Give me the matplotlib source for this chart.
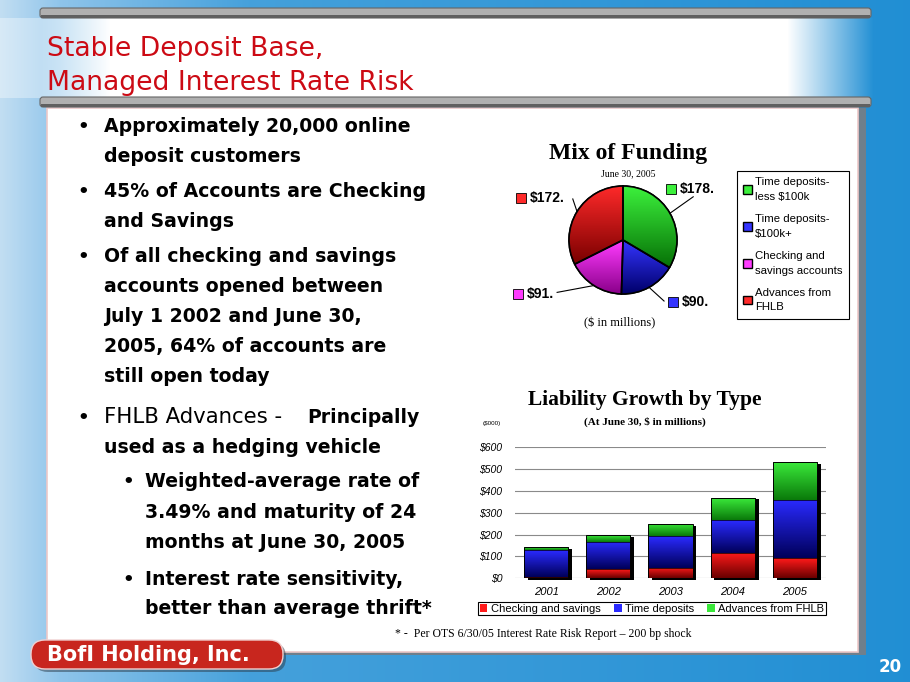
import numpy as np
import matplotlib
matplotlib.use('Agg')
import matplotlib.pyplot as plt
from matplotlib.patches import Rectangle, FancyBboxPatch
from matplotlib.colors import LinearSegmentedColormap

########### Data
FUNDING_LABELS = ['Time deposits-\nless $100k', 'Time deposits-\n$100k+',
                  'Checking and\nsavings accounts', 'Advances from\nFHLB']
FUNDING_VALUES = [178, 90, 91, 172]
FUNDING_TAGS = ['$178.', '$90.', '$91.', '$172.']

YEARS = ['2001', '2002', '2003', '2004', '2005']
CHECKING = [8, 41, 49, 118, 91]
TIME_DEP = [123, 127, 143, 151, 268]
FHLB_ADV = [12, 29, 55, 100, 172]
GROWTH_LABELS = ['Checking and savings', 'Time deposits', 'Advances from FHLB']
Y_TICKS = [0, 100, 200, 300, 400, 500, 600]
Y_TICK_LABELS = ['$0', '$100', '$200', '$300', '$400', '$500', '$600']

########### Styles
PIE_SHADES = [('#3cf03c', '#067006'), ('#3434ff', '#00006a'),
              ('#ff3cff', '#8a008a'), ('#ff2a2a', '#7a0000')]
BAR_SHADES = [('#ff1a1a', '#6a0000'), ('#2a2aff', '#00005a'), ('#3ae83a', '#0a7a0a')]
TITLE_RED = '#cc0a14'
W, H = 910, 682

fig = plt.figure(figsize=(9.1, 6.82), dpi=100)


def shade(ax, patch, c_top, c_bot, extent):
    """fill a patch with a vertical gradient (clipped image)"""
    cmap = LinearSegmentedColormap.from_list('g', [c_bot, c_top])
    grad = np.linspace(0, 1, 64).reshape(-1, 1)
    im = ax.imshow(grad, cmap=cmap, extent=extent, origin='lower', aspect='auto',
                   interpolation='bilinear', zorder=patch.get_zorder() + 0.1)
    im.set_clip_path(patch)


########### Slide background (pixel coordinates)
bg = fig.add_axes([0, 0, 1, 1], zorder=-1)
bg.set_xlim(0, W)
bg.set_ylim(H, 0)
bg.axis('off')

xs = np.arange(W)
stops = [0, 60, 250, 910]
cols = np.array([[0.76, 0.87, 0.95], [0.56, 0.77, 0.92], [0.27, 0.63, 0.86], [0.13, 0.56, 0.83]])
base = np.stack([np.interp(xs, stops, cols[:, k]) for k in range(3)], axis=-1)
img = np.tile(base, (H, 1, 1))
alpha = np.interp(xs, [40, 110, 787, 873], [0.35, 1, 1, 0])[None, :, None]
img[18:98] = img[18:98] * (1 - alpha) + alpha
bg.imshow(img, extent=(0, W, H, 0), aspect='auto', zorder=0)

# gray bars
for y0 in (8, 97):
    bg.add_patch(FancyBboxPatch((40, y0), 831, 10, boxstyle='round,pad=0,rounding_size=3',
                                facecolor='#b0b0b0', edgecolor='#666666', lw=0.8, zorder=2))
    bg.add_patch(Rectangle((41, y0 + 7), 829, 3, facecolor='#606060', lw=0, zorder=2.1))

# content panel
bg.add_patch(Rectangle((50, 108), 816, 547, facecolor='#6f7f8c', lw=0, zorder=1))
bg.add_patch(Rectangle((47, 108), 811, 544, facecolor='white', edgecolor='#ecc8c8', lw=1.2, zorder=1.5))

# title
bg.text(47, 56, 'Stable Deposit Base,', color=TITLE_RED, fontsize=19.2, va='baseline', zorder=3)
bg.text(47, 90, 'Managed Interest Rate Risk', color=TITLE_RED, fontsize=19.2, va='baseline', zorder=3)

# bullet text
lines = [
    (132, 0, True, 'Approximately 20,000 online'),
    (162, 0, False, 'deposit customers'),
    (197, 0, True, '45% of Accounts are Checking'),
    (227, 0, False, 'and Savings'),
    (262, 0, True, 'Of all checking and savings'),
    (292, 0, False, 'accounts opened between'),
    (322, 0, False, 'July 1 2002 and June 30,'),
    (352, 0, False, '2005, 64% of accounts are'),
    (382, 0, False, 'still open today'),
    (453, 0, False, 'used as a hedging vehicle'),
    (487, 1, True, 'Weighted-average rate of'),
    (518, 1, False, '3.49% and maturity of 24'),
    (548, 1, False, 'months at June 30, 2005'),
    (585, 1, True, 'Interest rate sensitivity,'),
    (614, 1, False, 'better than average thrift*'),
]
for yb, lvl, bullet, txt in lines:
    tx = 104 if lvl == 0 else 145
    bx = 77 if lvl == 0 else 122
    if bullet:
        bg.text(bx, yb, '\u2022', fontsize=13, fontweight='bold', va='baseline', zorder=3)
    bg.text(tx, yb, txt, fontsize=13.6, fontweight='bold', va='baseline', zorder=3)

bg.text(77, 423, '\u2022', fontsize=13, fontweight='bold', va='baseline', zorder=3)
bg.text(104, 423, 'FHLB Advances -', fontsize=15.3, va='baseline', zorder=3)
bg.text(307, 423, 'Principally', fontsize=13.6, fontweight='bold', va='baseline', zorder=3)

# footnote
bg.text(395, 634, '* -  Per OTS 6/30/05 Interest Rate Risk Report \u2013 200 bp shock',
        family='Liberation Serif', fontsize=8.5, va='center', zorder=3)

# bottom label and page number
bg.add_patch(FancyBboxPatch((34, 643), 252, 29, boxstyle='round,pad=0,rounding_size=14',
                            facecolor='#2a3a48', lw=0, alpha=0.5, zorder=3.9))
bg.add_patch(FancyBboxPatch((31, 640), 252, 29, boxstyle='round,pad=0,rounding_size=14',
                            facecolor='#c8261e', edgecolor='#f0d0d0', lw=1.0, zorder=4))
bg.text(47, 655, 'BofI Holding, Inc.', color='white', fontsize=15, fontweight='bold',
        va='center', zorder=5)
bg.text(890, 667, '20', color='white', fontsize=12, fontweight='bold', ha='center',
        va='center', zorder=5)

########### Pie chart - Mix of Funding
cx, cy, r_px = 623, 240, 54
half = 56
ax1 = fig.add_axes([(cx - half) / W, 1 - (cy + half) / H, 2 * half / W, 2 * half / H])
wedges, _ = ax1.pie(FUNDING_VALUES, startangle=90, counterclock=False,
                    colors=[c[0] for c in PIE_SHADES], radius=1,
                    wedgeprops=dict(edgecolor='black', linewidth=1.0))
for w, (ctop, cbot) in zip(wedges, PIE_SHADES):
    th = np.radians(np.linspace(w.theta1, w.theta2, 60))
    ys = np.r_[0, np.sin(th)]
    shade(ax1, w, ctop, cbot, (-1, 1, ys.min(), ys.max()))
ax1.pie(FUNDING_VALUES, startangle=90, counterclock=False, radius=1,
        wedgeprops=dict(fill=False, edgecolor='black', linewidth=1.2, zorder=5))
lim = half / r_px
ax1.set_xlim(-lim, lim)
ax1.set_ylim(-lim, lim)
ax1.axis('off')

# callout labels (text left x, y) and leader line ends, in pie radius units
tag_pos = [(1.06, 0.94), (1.09, -1.15), (-1.78, -1.0), (-1.72, 0.78)]
lead_end = [(1.30, 0.80), (0.76, -1.13), (-1.22, -0.97), (-0.93, 0.76)]
for w, tag, (tx, ty), (lx, ly) in zip(wedges, FUNDING_TAGS, tag_pos, lead_end):
    mid = np.radians((w.theta1 + w.theta2) / 2)
    ax1.plot([np.cos(mid), lx], [np.sin(mid), ly], color='black', lw=0.8, clip_on=False, zorder=6)
    ax1.plot(tx - 0.17, ty, marker='s', ms=7.5, mfc=w.get_facecolor(), mec='black', mew=0.6,
             clip_on=False, zorder=6)
    ax1.text(tx, ty, tag, fontsize=10, fontweight='bold', family='Liberation Sans',
             va='center', ha='left')

bg.text(628, 153, 'Mix of Funding', family='Liberation Serif', fontsize=17, fontweight='bold',
        ha='center', va='center', zorder=3)
bg.text(628, 174, 'June 30, 2005', family='Liberation Serif', fontsize=7, ha='center',
        va='center', zorder=3)
bg.text(620, 323, '($ in millions)', family='Liberation Serif', fontsize=9, ha='center',
        va='center', zorder=3)

leg1 = ax1.legend(wedges, FUNDING_LABELS, loc='upper left',
                  bbox_to_anchor=(737 / W, 1 - 171 / H), bbox_transform=fig.transFigure,
                  prop=dict(family='Liberation Sans', size=8.2), frameon=True, fancybox=False,
                  edgecolor='black', framealpha=1, handlelength=0.75, handleheight=0.75,
                  handletextpad=0.3, labelspacing=1.1, borderpad=0.55, borderaxespad=0)
leg1.get_frame().set_linewidth(0.8)
for t in leg1.get_texts():
    t.set_linespacing(1.55)

########### Stacked bars - Liability Growth by Type
ax2 = fig.add_axes([515 / W, 1 - 578.3 / H, 311 / W, 131 / H])
x = np.arange(len(YEARS))
chk = np.array(CHECKING)
tdp = np.array(TIME_DEP)
fhl = np.array(FHLB_ADV)
tot = chk + tdp + fhl
bw = 0.71

ax2.bar(x + 0.06, tot, bw, bottom=-7, color='black', zorder=2, clip_on=False)
b1 = ax2.bar(x, chk, bw, color=BAR_SHADES[0][0], zorder=3, label=GROWTH_LABELS[0])
b2 = ax2.bar(x, tdp, bw, bottom=chk, color=BAR_SHADES[1][0], zorder=3, label=GROWTH_LABELS[1])
b3 = ax2.bar(x, fhl, bw, bottom=chk + tdp, color=BAR_SHADES[2][0], zorder=3, label=GROWTH_LABELS[2])
for cont, (ctop, cbot) in zip((b1, b2, b3), BAR_SHADES):
    for p in cont:
        shade(ax2, p, ctop, cbot, (p.get_x(), p.get_x() + p.get_width(),
                                   p.get_y(), p.get_y() + p.get_height()))
ax2.bar(x, tot, bw, fill=False, edgecolor='black', lw=0.7, zorder=5)
for bottom in (chk, chk + tdp):
    ax2.bar(x, 0, bw, bottom=bottom, fill=False, edgecolor='black', lw=0.5, zorder=5)

ax2.set_xlim(-0.5, 4.5)
ax2.set_ylim(0, 600)
ax2.set_yticks(Y_TICKS)
ax2.set_yticklabels(Y_TICK_LABELS, fontstyle='italic', family='Liberation Sans', fontsize=7.5)
ax2.set_xticks(x)
ax2.set_xticklabels(YEARS, fontstyle='italic', family='Liberation Sans', fontsize=8)
ax2.tick_params(length=0, pad=9)
ax2.tick_params(axis='x', pad=6)
ax2.yaxis.grid(True, color='#8a8a8a', lw=0.8)
ax2.set_axisbelow(True)
for s in ax2.spines.values():
    s.set_visible(False)
ax2.patch.set_alpha(0)

bg.text(645, 400, 'Liability Growth by Type', family='Liberation Serif', fontsize=15.5,
        fontweight='bold', ha='center', va='center', zorder=3)
bg.text(645, 422, '(At June 30, $ in millions)', family='Liberation Serif', fontsize=8,
        fontweight='bold', ha='center', va='center', zorder=3)
bg.text(492, 423, '($000)', family='Liberation Sans', fontsize=4.5, ha='center',
        va='center', zorder=3)

leg2 = ax2.legend(handles=[b1, b2, b3], loc='upper center', ncol=3,
                  bbox_to_anchor=(652 / W, 1 - 602 / H), bbox_transform=fig.transFigure,
                  prop=dict(family='Liberation Sans', size=8), frameon=True, fancybox=False,
                  edgecolor='black', framealpha=1, handlelength=0.7, handleheight=0.7,
                  handletextpad=0.3, columnspacing=1.2, borderpad=0.15, borderaxespad=0)
leg2.get_frame().set_linewidth(0.8)

fig.savefig('out.png', dpi=100)
